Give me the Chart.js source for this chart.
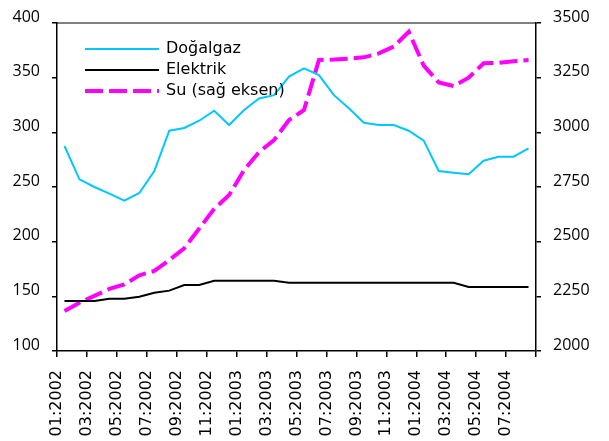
<!DOCTYPE html>
<html><head><meta charset="utf-8">
<script src="https://cdn.jsdelivr.net/npm/chart.js@4/dist/chart.umd.min.js"></script>
<style>html,body{margin:0;padding:0;background:#fff}canvas{display:block}</style>
</head><body>
<canvas id="c" width="609" height="441"></canvas>
<script>
const categories = ['01:2002','02:2002','03:2002','04:2002','05:2002','06:2002','07:2002','08:2002','09:2002','10:2002','11:2002','12:2002',
  '01:2003','02:2003','03:2003','04:2003','05:2003','06:2003','07:2003','08:2003','09:2003','10:2003','11:2003','12:2003',
  '01:2004','02:2004','03:2004','04:2004','05:2004','06:2004','07:2004','08:2004'];
const tickLabels = ['01:2002','03:2002','05:2002','07:2002','09:2002','11:2002','01:2003','03:2003','05:2003','07:2003','09:2003','11:2003','01:2004','03:2004','05:2004','07:2004'];
const dogalgaz = [287.5,257,250,244,237.5,244.5,264.6,301.5,304,310.6,319.8,306.7,320.4,331,334,351,358.6,352.4,334,322,308.8,306.7,306.7,301.5,292.4,264.6,263,261.6,274,277.7,277.7,285.4];
const elektrik = [145.7,145.7,145.7,147.8,147.8,149.7,153.3,155.2,160.4,160.4,164.3,164.3,164.3,164.3,164.3,162.5,162.5,162.5,162.5,162.5,162.5,162.5,162.5,162.5,162.5,162.5,162.5,158.5,158.5,158.5,158.5,158.5];
const su = [2183,2221,2252,2284,2304,2346,2366,2416,2470,2560,2650,2713,2828,2910,2965,3056,3102,3331,3333,3337,3343,3361,3392,3460,3305,3228,3212,3250,3316,3318,3325,3331];
const leftTicks = [100,150,200,250,300,350,400];
const rightTicks = [2000,2250,2500,2750,3000,3250,3500];
const seriesNames = ['Doğalgaz','Elektrik','Su (sağ eksen)'];

const toPts = arr => arr.map((v,i)=>({x:i,y:v}));

const legendPlugin = {
  id:'customLegend',
  afterDraw(chart){
    const ctx = chart.ctx;
    ctx.save();
    const items = [
      {t:seriesNames[0], c:'#00C8FF', w:2, d:[]},
      {t:seriesNames[1], c:'#000000', w:2, d:[]},
      {t:seriesNames[2], c:'#FF00FF', w:4, d:[18,6]}
    ];
    ctx.font = '16px "DejaVu Sans"';
    ctx.textBaseline = 'middle';
    items.forEach((it,k)=>{
      const y = 49 + k*21;
      ctx.beginPath();
      ctx.setLineDash(it.d);
      ctx.lineWidth = it.w;
      ctx.strokeStyle = it.c;
      ctx.moveTo(85,y); ctx.lineTo(159,y); ctx.stroke();
      ctx.setLineDash([]);
      ctx.fillStyle = '#000';
      ctx.fillText(it.t,166,y);
    });
    ctx.restore();
  }
};

new Chart(document.getElementById('c'), {
  type:'line',
  data:{datasets:[
    {label:seriesNames[0], data:toPts(dogalgaz), borderColor:'#00C8FF', borderWidth:2, pointRadius:0, tension:0, yAxisID:'y'},
    {label:seriesNames[1], data:toPts(elektrik), borderColor:'#000000', borderWidth:2, pointRadius:0, tension:0, yAxisID:'y'},
    {label:seriesNames[2], data:toPts(su), borderColor:'#FF00FF', borderWidth:4, borderDash:[18,6], pointRadius:0, tension:0, yAxisID:'y1'}
  ]},
  options:{
    responsive:false, animation:false, devicePixelRatio:1,
    layout:{padding:{top:23,left:0,right:0,bottom:0}},
    plugins:{legend:{display:false}, tooltip:{enabled:false}},
    scales:{
      x:{type:'linear', min:-0.5, max:categories.length-0.5,
        afterBuildTicks(s){ const t=[]; for(let k=0;k<=tickLabels.length;k++) t.push({value:-0.5+2*k}); s.ticks=t; },
        afterFit(s){ s.height = 90; },
        grid:{drawOnChartArea:false, drawTicks:true, tickLength:6, color:'#000', lineWidth:1.5},
        border:{display:true, color:'#000', width:1.5},
        ticks:{autoSkip:false, maxRotation:90, minRotation:90, padding:13, color:'#000',
          font:{family:'"DejaVu Sans"', size:16},
          callback(v){ const k = Math.round((v+0.5)/2); return tickLabels[k] !== undefined ? tickLabels[k] : ''; }}
      },
      xTop:{type:'linear', position:'top', min:-0.5, max:categories.length-0.5, display:true,
        afterFit(s){ s.height = 0; },
        grid:{display:false, drawOnChartArea:false, drawTicks:false},
        border:{display:true, color:'#7F7F7F', width:2},
        ticks:{display:false}
      },
      y:{type:'linear', position:'left', min:100, max:400,
        afterBuildTicks(s){ s.ticks = leftTicks.map(v=>({value:v})); },
        afterFit(s){ s.width = 57; },
        grid:{drawOnChartArea:false, drawTicks:true, tickLength:5, color:'#000', lineWidth:1.5},
        border:{display:true, color:'#000', width:1.5},
        ticks:{padding:12, labelOffset:-6, color:'#000', font:{family:'"Open Sans"', size:16}, callback:v=>String(v)}
      },
      y1:{type:'linear', position:'right', min:2000, max:3500,
        afterBuildTicks(s){ s.ticks = rightTicks.map(v=>({value:v})); },
        afterFit(s){ s.width = 73; },
        grid:{drawOnChartArea:false, drawTicks:true, tickLength:5, color:'#000', lineWidth:1.5},
        border:{display:true, color:'#000', width:1.5},
        ticks:{padding:12, labelOffset:-6, color:'#000', font:{family:'"Open Sans"', size:16}, callback:v=>String(v)}
      }
    }
  },
  plugins:[legendPlugin]
});
</script>
</body></html>
